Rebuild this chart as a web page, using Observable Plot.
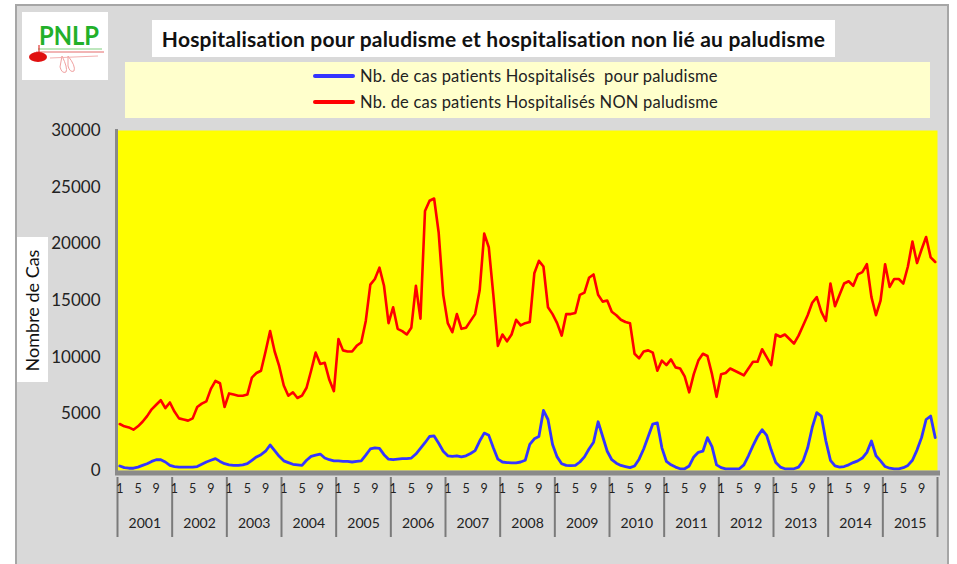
<!DOCTYPE html>
<html>
<head>
<meta charset="utf-8">
<script src="https://cdn.jsdelivr.net/npm/d3@7"></script>
<script src="https://cdn.jsdelivr.net/npm/@observablehq/plot@0.6"></script>
<style>
  html, body { margin: 0; padding: 0; background: #ffffff; width: 957px; height: 564px; overflow: hidden; }
  body { position: relative; font-family: Lato, "Open Sans", sans-serif; }
  #frame { position: absolute; left: 15px; top: 4px; width: 930px; height: 600px; background: #d9d9d9; border: 2px solid #a6a6a6; }
  #logo { position: absolute; left: 22px; top: 12px; }
  #title { position: absolute; left: 152px; top: 20px; width: 683px; height: 37px; background: #ffffff;
           font-weight: bold; font-size: 21px; letter-spacing: 0.2px; line-height: 37px; text-align: center; color: #111; white-space: nowrap; }
  #legend { position: absolute; left: 125px; top: 62px; width: 805px; height: 56px; background: #ffffcc; }
  .lg { position: absolute; left: 188px; height: 20px; display: flex; align-items: center; font-size: 16.5px; letter-spacing: 0.2px; color: #222; white-space: pre; }
  .lg .sw { width: 42px; height: 4px; margin-right: 5px; border-radius: 2px; }
  #ytitlebox { position: absolute; left: 17px; top: 237px; width: 31px; height: 145px; background: #ffffff; }
  #chart { position: absolute; left: 0; top: 120px; }
</style>
</head>
<body>
<div id="frame"></div>
<svg id="logo" width="86" height="68" viewBox="0 0 86 68">
  <rect x="0" y="0" width="86" height="68" fill="#ffffff"/>
  <text x="17" y="33" font-family="Lato, sans-serif" font-weight="bold" font-size="26" fill="#22b02a" textLength="60" lengthAdjust="spacingAndGlyphs">PNLP</text>
  <line x1="16" y1="37" x2="80" y2="37" stroke="#7ccf7c" stroke-width="1.2"/>
  <line x1="14" y1="40" x2="82" y2="40" stroke="#e46b6b" stroke-width="1"/>
  <ellipse cx="16" cy="45" rx="9" ry="5" fill="#e01010"/>
  <line x1="17" y1="33" x2="17" y2="42" stroke="#e01010" stroke-width="1"/>
  <path d="M40 44 Q46 56 44 60 Q40 62 38 55 Z" fill="none" stroke="#f0a0a0" stroke-width="1"/>
  <path d="M46 44 Q54 54 52 59 Q48 61 46 54 Z" fill="none" stroke="#f0a0a0" stroke-width="1"/>
  <line x1="28" y1="46" x2="76" y2="44" stroke="#f3b0b0" stroke-width="1"/>
</svg>
<div id="title">Hospitalisation pour paludisme et hospitalisation non lié au paludisme</div>
<div id="legend">
  <div class="lg" style="top:4px"><span class="sw" style="background:#3535ff"></span>Nb. de cas patients Hospitalisés  pour paludisme</div>
  <div class="lg" style="top:30px"><span class="sw" style="background:#ff0000"></span>Nb. de cas patients Hospitalisés NON paludisme</div>
</div>
<div id="ytitlebox"></div>
<div id="chart"></div>
<script>
const years = [2001, 2002, 2003, 2004, 2005, 2006, 2007, 2008, 2009, 2010, 2011, 2012, 2013, 2014, 2015];
const monthTicks = [1, 5, 9];
const yTicks = [0, 5000, 10000, 15000, 20000, 25000, 30000];
const yTitle = "Nombre de Cas";

// Monthly hospitalisations, Jan 2001 – Dec 2015
const nonPalu = [
  4100, 3900, 3800, 3600, 3900, 4300, 4800, 5400, 5800, 6200, 5500, 6000,
  5200, 4600, 4500, 4400, 4600, 5600, 5900, 6100, 7200, 7900, 7700, 5600,
  6800, 6700, 6600, 6600, 6700, 8200, 8600, 8800, 10500, 12300, 10500, 9200,
  7500, 6600, 6900, 6400, 6600, 7300, 8800, 10400, 9400, 9500, 8000, 7000,
  11600, 10600, 10500, 10500, 11000, 11300, 13200, 16400, 16900, 17900, 16300, 13000,
  14400, 12500, 12300, 12000, 12600, 16300, 13400, 22900, 23800, 24000, 21000, 15500,
  13000, 12200, 13800, 12500, 12600, 13200, 13800, 15900, 20900, 19700, 15500, 11000,
  12000, 11400, 12000, 13300, 12800, 13000, 13100, 17400, 18500, 18000, 14400, 13800,
  13000, 11900, 13800, 13800, 13900, 15500, 15700, 17000, 17300, 15500, 14900, 15000,
  14000, 13700, 13300, 13100, 13000, 10300, 9900, 10500, 10600, 10400, 8800, 9700,
  9300, 9800, 9100, 9000, 8300, 6900, 8500, 9700, 10300, 10100, 8500, 6500,
  8500, 8600, 9000, 8800, 8600, 8400, 9000, 9600, 9600, 10700, 10000, 9300,
  12000, 11800, 12000, 11600, 11200, 11900, 12800, 13700, 14800, 15300, 14000, 13200,
  16500, 14500, 15500, 16500, 16700, 16300, 17300, 17500, 18200, 15300, 13700, 15000,
  18200, 16200, 16900, 16900, 16500, 18000, 20200, 18300, 19500, 20600, 18800, 18400
];
const palu = [
  400, 250, 200, 200, 300, 450, 600, 800, 950, 950, 750, 450,
  350, 300, 300, 300, 300, 350, 550, 750, 900, 1050, 800, 600,
  500, 450, 450, 500, 600, 900, 1200, 1400, 1700, 2250, 1750, 1250,
  850, 700, 550, 500, 450, 900, 1250, 1350, 1450, 1100, 950, 850,
  850, 800, 800, 750, 800, 850, 1350, 1900, 2000, 1950, 1400, 1000,
  950, 1000, 1050, 1050, 1100, 1450, 1950, 2450, 3000, 3050, 2400, 1700,
  1300, 1250, 1300, 1200, 1300, 1500, 1750, 2600, 3300, 3100, 2000, 1000,
  750, 700, 680, 680, 750, 900, 2300, 2800, 3000, 5300, 4500, 2300,
  1200, 600, 450, 430, 450, 750, 1200, 1900, 2500, 4300, 3000, 1700,
  950, 650, 450, 350, 250, 400, 1000, 1900, 3000, 4100, 4200, 2000,
  800, 500, 300, 150, 150, 400, 1200, 1600, 1700, 2900, 2100, 500,
  250, 150, 150, 150, 150, 500, 1300, 2200, 3000, 3600, 3100, 1800,
  700, 300, 150, 150, 150, 300, 850, 2000, 3800, 5100, 4800, 2600,
  900, 400, 300, 350, 500, 700, 850, 1100, 1600, 2600, 1300, 850,
  350, 200, 150, 150, 250, 450, 900, 1800, 2900, 4500, 4800, 2900
];

const monthLabelData = years.flatMap((y, k) => monthTicks.map(m => ({i: k * 12 + m - 1, m: String(m)})));
const yearLabelData = years.map((y, k) => ({i: k * 12 + 5.5, y: String(y)}));
const separators = d3.range(years.length + 1).map(k => k * 12 - 0.5);

const W = 957, H = 444;
const chart = Plot.plot({
  width: W,
  height: H,
  marginLeft: 117,
  marginRight: 20,
  marginTop: 10,
  marginBottom: 94,
  style: {background: "transparent", fontFamily: "Lato, 'Open Sans', sans-serif", color: "#222"},
  x: {domain: [-0.5, nonPalu.length - 0.5], axis: null},
  y: {domain: [0, 30000]},
  marks: [
    Plot.frame({fill: "#ffff00", stroke: null}),
    Plot.axisY({ticks: yTicks, tickSize: 0, tickPadding: 17, fontSize: 17, tickFormat: d => String(d), label: null, fill: "#222"}),
    Plot.text([yTitle], {frameAnchor: "left", textAnchor: "middle", rotate: -90, dx: -84, dy: 10, fontSize: 18, fill: "#111"}),
    Plot.line(nonPalu, {x: (d, i) => i, y: d => d, stroke: "#ff0000", strokeWidth: 2.6, curve: "linear"}),
    Plot.line(palu, {x: (d, i) => i, y: d => d, stroke: "#3535ff", strokeWidth: 2.8, curve: "linear"}),
    Plot.frame({anchor: "left", stroke: "#8a8a8a", strokeWidth: 3, dx: -1}),
    Plot.frame({anchor: "bottom", stroke: "#8a8a8a", strokeWidth: 5, dy: 2.5}),
    Plot.ruleX(separators, {x: d => d, insetTop: 280, dy: 67, stroke: "#7a7a7a", strokeWidth: 2}),
    Plot.text(monthLabelData, {x: "i", text: "m", frameAnchor: "bottom", dy: 22, fontSize: 12.5, fill: "#222"}),
    Plot.text(yearLabelData, {x: "i", text: "y", frameAnchor: "bottom", dy: 57, fontSize: 14, fill: "#222"})
  ]
});
document.getElementById("chart").appendChild(chart);
</script>
</body>
</html>
